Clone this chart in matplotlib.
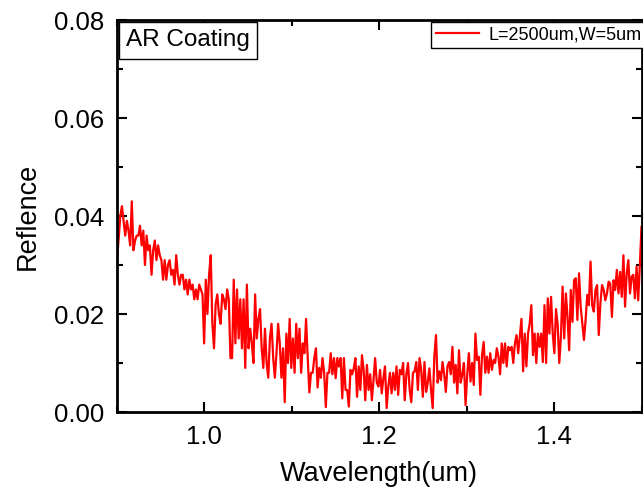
import numpy as np
import matplotlib
matplotlib.use('Agg')
import matplotlib.pyplot as plt
from matplotlib.ticker import MultipleLocator, FormatStrFormatter

plt.rcParams['font.family'] = ['Liberation Sans', 'DejaVu Sans']

# Reflectance (left to right, 0.9 um -> 1.5 um)
refl_part1 = [0.0310, 0.0353, 0.0400, 0.0420, 0.0390, 0.0360, 0.0390, 0.0370, 0.0340, 0.0430,
              0.0330, 0.0350, 0.0360, 0.0360, 0.0380, 0.0340, 0.0370, 0.0300, 0.0360, 0.0330,
              0.0340, 0.0280, 0.0330, 0.0350, 0.0310, 0.0340, 0.0320, 0.0310, 0.0270, 0.0310,
              0.0270, 0.0300, 0.0310, 0.0280, 0.0290, 0.0260, 0.0320, 0.0280, 0.0260, 0.0280,
              0.0280, 0.0250, 0.0270, 0.0240, 0.0270, 0.0250, 0.0260, 0.0230, 0.0250, 0.0230,
              0.0260, 0.0250, 0.0240, 0.0140, 0.0270, 0.0200, 0.0280, 0.0320, 0.0180, 0.0130,
              0.0220, 0.0240, 0.0200, 0.0180, 0.0240]
refl_part2 = [0.0230, 0.0210, 0.0250, 0.0230, 0.0110, 0.0110, 0.0270, 0.0140, 0.0250, 0.0150,
              0.0230, 0.0130, 0.0230, 0.0090, 0.0260, 0.0130, 0.0170, 0.0140, 0.0100, 0.0240,
              0.0150, 0.0190, 0.0210, 0.0130, 0.0090, 0.0170, 0.0100, 0.0070, 0.0150, 0.0180,
              0.0110, 0.0070, 0.0120, 0.0180, 0.0140, 0.0070, 0.0130, 0.0020, 0.0160, 0.0100,
              0.0190, 0.0090, 0.0150, 0.0080, 0.0180, 0.0110, 0.0170, 0.0080, 0.0140, 0.0120,
              0.0190, 0.0110, 0.0040, 0.0080, 0.0080, 0.0110, 0.0130, 0.0050, 0.0090, 0.0070,
              0.0110, 0.0080, 0.0010, 0.0080, 0.0080, 0.0120]
refl_part3 = [0.0077, 0.0110, 0.0069, 0.0110, 0.0093, 0.0110, 0.0028, 0.0110, 0.0045, 0.0045,
              0.0011, 0.0086, 0.0077, 0.0089, 0.0110, 0.0031, 0.0093, 0.0045, 0.0116, 0.0086,
              0.0024, 0.0096, 0.0045, 0.0077, 0.0024, 0.0065, 0.0110, 0.0060, 0.0052, 0.0086,
              0.0038, 0.0069, 0.0093, 0.0008, 0.0052, 0.0080, 0.0038, 0.0080, 0.0045, 0.0093,
              0.0035, 0.0086, 0.0077, 0.0100, 0.0024, 0.0077, 0.0100, 0.0045, 0.0020, 0.0080,
              0.0083, 0.0102, 0.0045, 0.0110, 0.0086, 0.0031, 0.0102, 0.0041, 0.0060, 0.0089,
              0.0045, 0.0008, 0.0113, 0.0157]
refl_part4 = [0.0060, 0.0083, 0.0065, 0.0102, 0.0077, 0.0041, 0.0093, 0.0102, 0.0077, 0.0133,
              0.0060, 0.0096, 0.0038, 0.0126, 0.0060, 0.0077, 0.0100, 0.0014, 0.0077, 0.0120,
              0.0062, 0.0100, 0.0055, 0.0160, 0.0106, 0.0113, 0.0035, 0.0116, 0.0143, 0.0080,
              0.0113, 0.0080, 0.0120, 0.0086, 0.0106, 0.0100, 0.0130, 0.0113, 0.0077, 0.0140,
              0.0100, 0.0140, 0.0093, 0.0133, 0.0126, 0.0133, 0.0100, 0.0140, 0.0157, 0.0120,
              0.0154, 0.0190, 0.0083, 0.0160, 0.0093, 0.0160, 0.0181, 0.0218, 0.0116, 0.0160,
              0.0100, 0.0160]
refl_part5 = [0.0133, 0.0160, 0.0102, 0.0218, 0.0100, 0.0232, 0.0160, 0.0235, 0.0160, 0.0120,
              0.0210, 0.0178, 0.0100, 0.0154, 0.0256, 0.0150, 0.0242, 0.0194, 0.0126, 0.0249,
              0.0184, 0.0269, 0.0273, 0.0188, 0.0283, 0.0215, 0.0181, 0.0147, 0.0188, 0.0239,
              0.0218, 0.0307, 0.0218, 0.0205, 0.0249, 0.0259, 0.0157, 0.0222, 0.0259, 0.0249,
              0.0228, 0.0242, 0.0266, 0.0262, 0.0194, 0.0269, 0.0249, 0.0290, 0.0242, 0.0286,
              0.0235, 0.0320, 0.0215, 0.0283, 0.0310, 0.0242, 0.0276, 0.0280, 0.0232, 0.0297,
              0.0228, 0.0300, 0.0378]

reflectance = np.array(refl_part1 + refl_part2 + refl_part3 + refl_part4 + refl_part5)
wavelength = np.linspace(0.9, 1.5, len(reflectance))

fig = plt.figure(figsize=(6.43, 4.91), dpi=100)
ax = fig.add_axes([117 / 643, 1 - 412 / 491, 524.5 / 643, 392 / 491])

ax.plot(wavelength, reflectance, color='red', linewidth=1.6, label='L=2500um,W=5um')

ax.set_xlim(0.9, 1.5)
ax.set_ylim(0.0, 0.08)
ax.xaxis.set_major_locator(MultipleLocator(0.2))
ax.xaxis.set_minor_locator(MultipleLocator(0.1))
ax.yaxis.set_major_locator(MultipleLocator(0.02))
ax.yaxis.set_minor_locator(MultipleLocator(0.01))
ax.xaxis.set_major_formatter(FormatStrFormatter('%.1f'))
ax.yaxis.set_major_formatter(FormatStrFormatter('%.2f'))

ax.tick_params(which='both', direction='in', top=True, right=True, width=1.5,
               labelsize=18.5)
ax.tick_params(which='major', length=7, pad=9)
ax.tick_params(which='minor', length=4)
for s in ax.spines.values():
    s.set_linewidth(2)

ax.set_xlabel('Wavelength(um)', fontsize=19.5, labelpad=9)
ax.set_ylabel('Reflence', fontsize=19.5, labelpad=10)

# label box in the top-left corner
ax.text(0.0177, 0.976, 'AR Coating', transform=ax.transAxes, fontsize=17.5,
        va='top', ha='left',
        bbox=dict(boxstyle='square,pad=0.3', facecolor='white', edgecolor='black', linewidth=1))

leg = ax.legend(loc='upper right', bbox_to_anchor=(1.008, 0.996), fontsize=13,
                frameon=True, fancybox=False, framealpha=1, edgecolor='black',
                handlelength=2.4, borderpad=0.25, borderaxespad=0.0, handletextpad=0.5)
leg.get_frame().set_linewidth(1)

fig.savefig('out.png', dpi=100)
